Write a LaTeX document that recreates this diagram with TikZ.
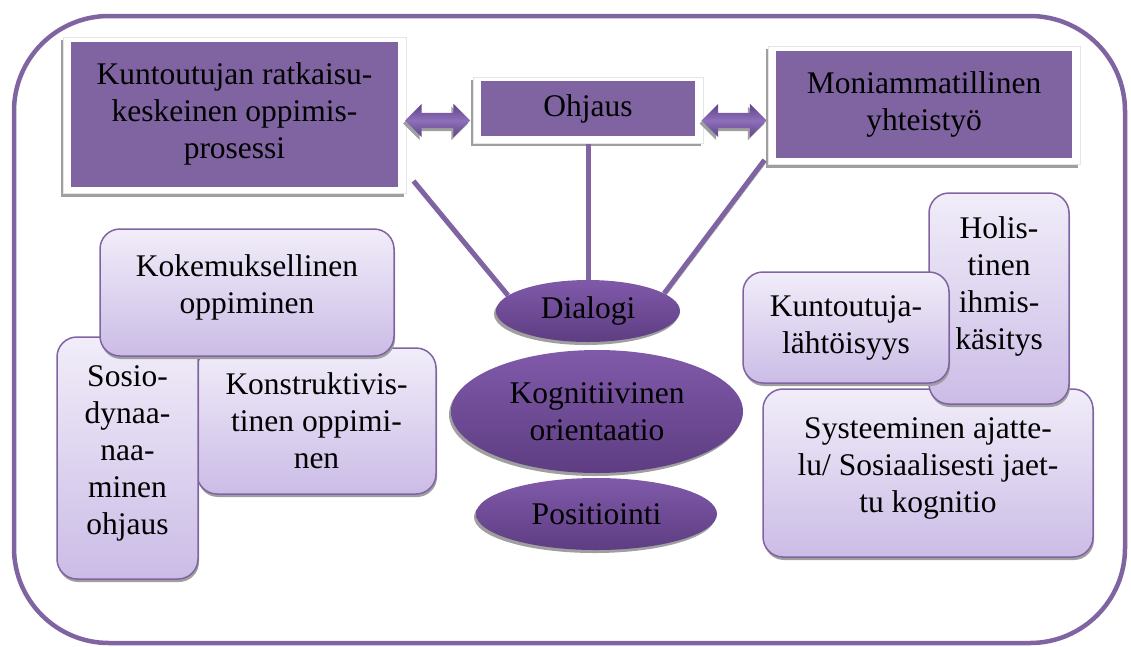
\documentclass[tikz,border=0pt]{standalone}
\usepackage{fontspec}
\setmainfont{Liberation Serif}
\usetikzlibrary{shapes.geometric, shapes.arrows, calc, backgrounds, fit, shadows}
\definecolor{primarypurple}{RGB}{128,100,162}
\definecolor{softtop}{RGB}{241,237,249}
\definecolor{softbottom}{RGB}{203,188,230}
\definecolor{hubtop}{RGB}{128,90,170}
\definecolor{hubbottom}{RGB}{94,61,130}
\definecolor{arrowlight}{RGB}{142,112,186}
\definecolor{arrowdark}{RGB}{96,66,136}

% text block moved up inside its box, size kept
\newcommand{\liftedlines}[2]{\raisebox{#1}[\height][\depth]{\begin{tabular}{@{}c@{}}#2\end{tabular}}}

\tikzset{
  basetext/.style={font=\fontsize{31.5}{37}\selectfont, align=center, inner sep=0pt},
  mainbox/.style={basetext, fill=primarypurple},
  whiteframe/.style={fill=white, draw=gray!20, line width=0.6pt,
    drop shadow={shadow xshift=-2pt, shadow yshift=-3pt, fill=gray!75, opacity=1}},
  softbox/.style={basetext, rounded corners=20pt, draw=primarypurple, line width=1.5pt,
    top color=softtop, bottom color=softbottom,
    drop shadow={shadow xshift=1pt, shadow yshift=-3pt, fill=gray!75, opacity=1}},
  hub/.style={basetext, ellipse, top color=hubtop, bottom color=hubbottom,
    drop shadow={shadow xshift=-2pt, shadow yshift=-3pt, fill=gray!75, opacity=1}},
  swap/.style={double arrow, double arrow head extend=9pt, inner xsep=0pt, inner ysep=7.5pt,
    minimum height=65pt, top color=arrowdark, bottom color=arrowdark, middle color=arrowlight,
    drop shadow={shadow xshift=-2pt, shadow yshift=-3pt, fill=gray!75, opacity=1}},
  link/.style={line width=5pt, draw=primarypurple,
    preaction={draw=gray!75, transform canvas={xshift=2pt, yshift=-2pt}}}
}

\begin{document}
\begin{tikzpicture}[x=1pt, y=-1pt]
        \useasboundingbox (0,0) rectangle (1131,646);

        % Outer border
        \begin{scope}[on background layer]
          \draw[primarypurple, line width=4.5pt, rounded corners=95pt] (14,16) rectangle (1125,643);
        \end{scope}

        % Top boxes
        \node[mainbox, minimum width=327, minimum height=145] (prosessi) at (234.5,114)
          {Kuntoutujan ratkaisu-\\keskeinen oppimis-\\prosessi};
        \node[mainbox, minimum width=214, minimum height=55] (ohjaus) at (588,108.5) {Ohjaus};
        \node[mainbox, minimum width=296, minimum height=107] (yhteistyo) at (924,104)
          {Moniammatillinen\\yhteistyö};

        \begin{scope}[on background layer]
          \node[whiteframe, fit=(prosessi), inner xsep=8pt, inner ysep=5.5pt, yshift=-1.5pt] (prosessiframe) {};
          \node[whiteframe, fit=(ohjaus), inner xsep=8pt, inner ysep=5.5pt, yshift=-1.5pt] (ohjausframe) {};
          \node[whiteframe, fit=(yhteistyo), inner xsep=8pt, inner ysep=5.5pt, yshift=-1.5pt] (yhteistyoframe) {};
        \end{scope}

        % Double arrows
        \node[swap] (swapleft) at (437.5,120.5) {};
        \node[swap] (swapright) at (734,120.5) {};

        % Centre ellipses
        \node[hub, minimum width=184, minimum height=62] (dialogi) at (588,311) {Dialogi};
        \node[hub, minimum width=292, minimum height=123] (orientaatio) at (597,411.5)
          {Kognitiivinen\\orientaatio};
        \node[hub, minimum width=241, minimum height=72] (positiointi) at (596.5,514) {Positiointi};

        % Links to Dialogi
        \begin{scope}[on background layer]
          \draw[link] ($(prosessiframe.south east)+(7,-13)$) -- (dialogi.169);
          \draw[link] (ohjausframe.south) -- (dialogi.north);
          \draw[link] ($(yhteistyoframe.south west)+(-3,-5)$) -- (dialogi.13);
        \end{scope}

        % Left group
        \node[softbox, minimum width=239, minimum height=146] (konstr) at (316.5,421)
          {Konstruktivis-\\tinen oppimi-\\nen};
        \node[softbox, minimum width=141, minimum height=242] (sosio) at (127.5,458)
          {\liftedlines{5pt}{Sosio-\\dynaa-\\naa-\\minen\\ohjaus}};
        \node[softbox, minimum width=294, minimum height=127] (kokemus) at (247,292.5)
          {\liftedlines{5pt}{Kokemuksellinen\\oppiminen}};

        % Right group
        \node[softbox, minimum width=330, minimum height=168] (systeemi) at (928,473)
          {\liftedlines{5pt}{Systeeminen ajatte-\\lu/ Sosiaalisesti jaet-\\tu kognitio}};
        \node[softbox, minimum width=140, minimum height=211] (holis) at (999,298.5)
          {\liftedlines{12pt}{Holis-\\tinen\\ihmis-\\käsitys}};
        \node[softbox, minimum width=206, minimum height=111] (kuntoutuja) at (846,327.5)
          {Kuntoutuja-\\lähtöisyys};
    \end{tikzpicture}
\end{document}
